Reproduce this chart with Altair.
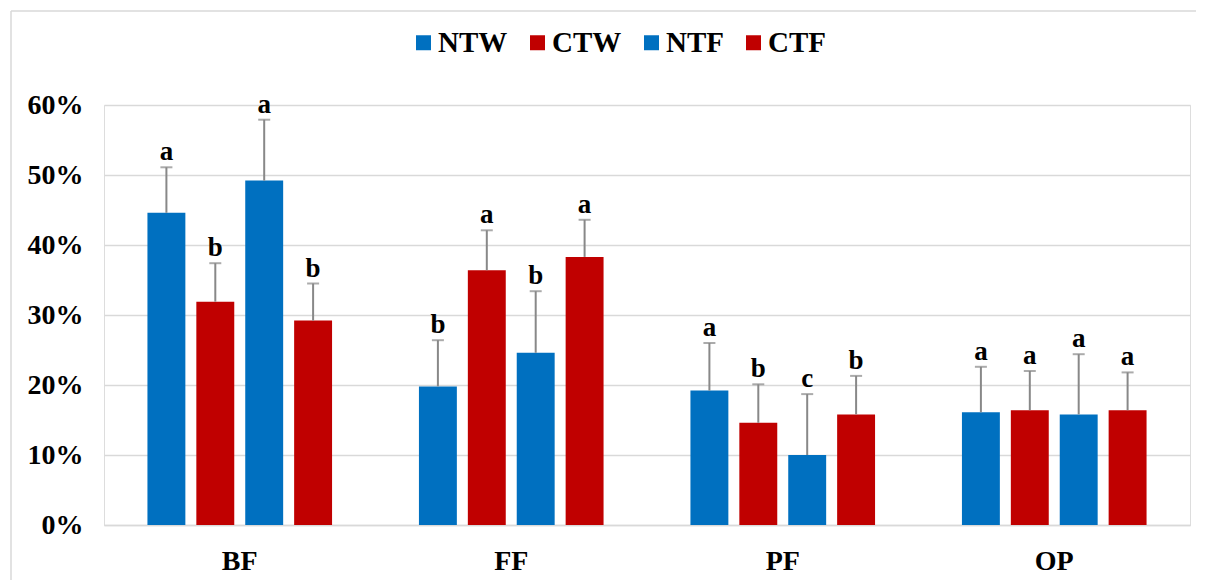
import altair as alt
import pandas as pd

categories = ["BF", "FF", "PF", "OP"]
series = ["NTW", "CTW", "NTF", "CTF"]

# mean values (%)
NTW = [44.6, 19.8, 19.2, 16.1]
CTW = [31.9, 36.4, 14.6, 16.4]
NTF = [49.2, 24.6, 10.0, 15.8]
CTF = [29.2, 38.3, 15.8, 16.4]

# upper error (%)
NTW_err = [6.5, 6.6, 6.8, 6.5]
CTW_err = [5.5, 5.7, 5.5, 5.6]
NTF_err = [8.7, 8.8, 8.7, 8.6]
CTF_err = [5.3, 5.3, 5.5, 5.4]

# significance letters
NTW_sig = ["a", "b", "a", "a"]
CTW_sig = ["b", "a", "b", "a"]
NTF_sig = ["a", "b", "c", "a"]
CTF_sig = ["b", "a", "b", "a"]

colors = ["#0070C0", "#C00000", "#0070C0", "#C00000"]

means = {"NTW": NTW, "CTW": CTW, "NTF": NTF, "CTF": CTF}
errs = {"NTW": NTW_err, "CTW": CTW_err, "NTF": NTF_err, "CTF": CTF_err}
sigs = {"NTW": NTW_sig, "CTW": CTW_sig, "NTF": NTF_sig, "CTF": CTF_sig}

rows = []
for s in series:
    for i, c in enumerate(categories):
        m = means[s][i] / 100
        e = errs[s][i] / 100
        rows.append({"cat": c, "series": s, "mean": m, "top": m + e, "sig": sigs[s][i]})
df = pd.DataFrame(rows)

FONT = "Liberation Serif, Times New Roman, serif"

x_enc = alt.X("cat:N", sort=categories, title=None,
              scale=alt.Scale(paddingInner=0.32, paddingOuter=0.16),
              axis=alt.Axis(labelAngle=0, labelFont=FONT, labelFontSize=28, labelFontWeight="bold",
                            labelColor="black", labelPadding=22, ticks=False,
                            domainColor="#d9d9d9", domainWidth=1.5, grid=False))
xo_enc = alt.XOffset("series:N", sort=series,
                     scale=alt.Scale(paddingInner=0.2245, paddingOuter=0))

base = alt.Chart(df)

bars = base.mark_bar().encode(
    x=x_enc,
    xOffset=xo_enc,
    y=alt.Y("mean:Q", title=None,
            scale=alt.Scale(domain=[0, 0.6], nice=False),
            axis=alt.Axis(format=".0%", values=[0, 0.1, 0.2, 0.3, 0.4, 0.5, 0.6],
                          labelFont=FONT, labelFontSize=28, labelFontWeight="bold",
                          labelColor="black", labelPadding=21, ticks=False, domain=False,
                          gridColor="#d9d9d9", gridWidth=1.5)),
    color=alt.Color("series:N", sort=series,
                    scale=alt.Scale(domain=series, range=colors),
                    legend=alt.Legend(title=None, orient="none", direction="horizontal",
                                      legendX=305, legendY=-77, padding=0,
                                      symbolType="square", symbolSize=225,
                                      symbolStrokeWidth=0,
                                      labelFont=FONT, labelFontSize=29, labelFontWeight="bold",
                                      labelColor="black", labelOffset=0, columnPadding=15)),
)

err_line = base.mark_rule(color="#888888", strokeWidth=2).encode(
    x=x_enc, xOffset=xo_enc, y="mean:Q", y2="top:Q"
)

err_cap = base.mark_tick(color="#888888", thickness=2, size=12).encode(
    x=x_enc, xOffset=xo_enc, y="top:Q"
)

letters = base.mark_text(font=FONT, fontSize=27, fontWeight="bold", color="black",
                         baseline="alphabetic", dy=-7).encode(
    x=x_enc, xOffset=xo_enc, y="top:Q", text="sig:N"
)

one = alt.Data(values=[{"k": 1}])
border_left = alt.Chart(one).mark_rule(color="#d9d9d9", strokeWidth=1.5).encode(
    x=alt.value(-93), y=alt.value(-94), y2=alt.value(520)
)
border_top = alt.Chart(one).mark_rule(color="#d9d9d9", strokeWidth=1.5).encode(
    x=alt.value(-93), x2=alt.value(1120), y=alt.value(-94)
)

chart = alt.layer(border_left, border_top, bars, err_line, err_cap, letters).properties(
    width=1086, height=420,
    autosize=alt.AutoSizeParams(type="none"),
    padding={"left": 96, "top": 97, "right": 6, "bottom": 55},
).configure_view(strokeWidth=0, stroke="transparent").configure(background="white")

chart.save("out.html", embed_options={"renderer": "svg", "actions": False})
